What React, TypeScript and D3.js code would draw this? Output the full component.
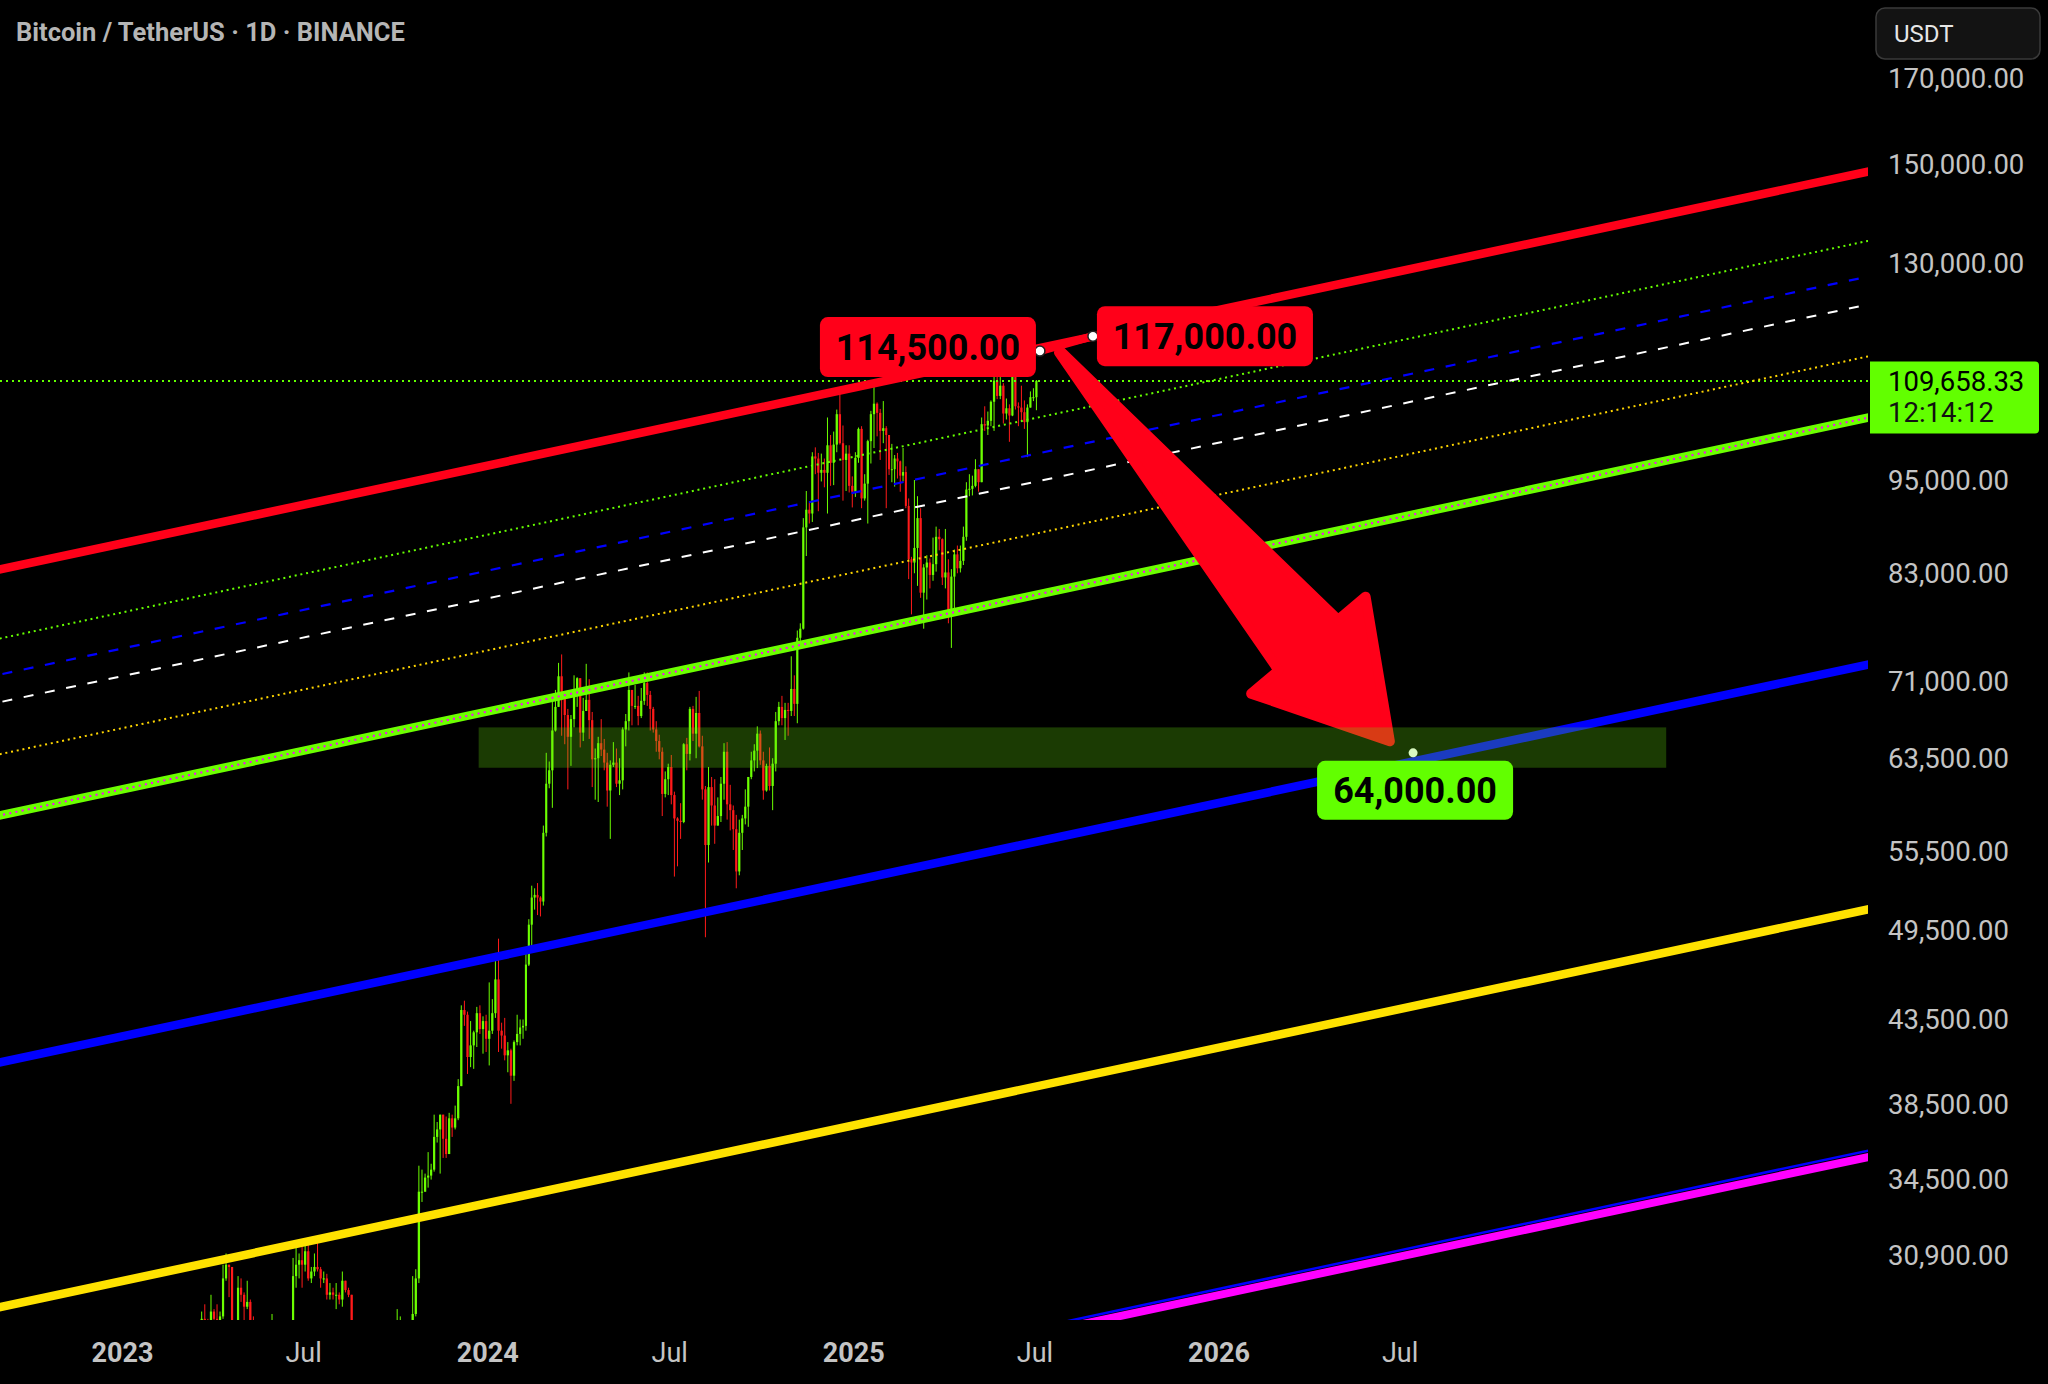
import React, { useEffect } from "react";
import * as d3 from "d3";

const W = 2048;
const H = 1384;
const plotRight = 1868;
const plotBottom = 1320;

const title = "Bitcoin / TetherUS · 1D · BINANCE";
const currency = "USDT";

// price axis labels shown by the chart
const priceTicks = [170000, 150000, 130000, 95000, 83000, 71000, 63500, 55500, 49500, 43500, 38500, 34500, 30900];

// time axis labels
const timeTicks = ["2023-01-01", "2023-07-01", "2024-01-01", "2024-07-01", "2025-01-01", "2025-07-01", "2026-01-01", "2026-07-01"];
const timeTickLabels = ["2023", "Jul", "2024", "Jul", "2025", "Jul", "2026", "Jul"];

// BTC/USDT bars, 10 bars per month (values in thousands), open = previous close
const candleMonths = [
  "2023-03", "2023-04", "2023-05", "2023-06", "2023-07", "2023-08", "2023-09", "2023-10", "2023-11", "2023-12",
  "2024-01", "2024-02", "2024-03", "2024-04", "2024-05", "2024-06", "2024-07", "2024-08", "2024-09", "2024-10",
  "2024-11", "2024-12", "2025-01", "2025-02", "2025-03", "2025-04", "2025-05", "2025-06", "2025-07",
];
const firstOpen = 23.5;
const lastBarDays = 3;

const closes = [
  [22.4, 22.4, 20.4, 22.1, 24.4, 26.9, 28.2, 27.5, 27.1, 28.5],
  [28.2, 28.0, 28.3, 29.9, 30.5, 30.4, 27.3, 27.5, 29.5, 29.2],
  [28.7, 28.9, 27.6, 26.8, 27.2, 26.8, 26.7, 26.3, 26.9, 27.2],
  [27.2, 25.8, 26.5, 25.9, 25.6, 26.3, 30.0, 30.5, 30.7, 30.5],
  [31.1, 29.9, 30.2, 30.4, 30.3, 29.9, 29.9, 29.2, 29.3, 29.2],
  [29.2, 29.0, 29.8, 29.4, 29.2, 26.0, 26.1, 26.2, 26.1, 26.0],
  [25.9, 25.8, 25.9, 25.2, 26.6, 26.8, 26.6, 26.3, 26.4, 27.0],
  [27.5, 27.9, 27.6, 26.8, 27.2, 28.4, 29.9, 33.9, 33.9, 34.6],
  [34.7, 35.0, 36.7, 37.1, 37.9, 36.6, 35.8, 37.7, 37.2, 37.7],
  [39.5, 44.1, 43.8, 41.2, 41.9, 42.7, 43.9, 42.9, 43.4, 42.3],
  [42.8, 43.9, 46.1, 42.8, 42.5, 41.3, 41.6, 40.1, 42.1, 42.6],
  [43.0, 43.1, 47.1, 49.9, 51.9, 52.1, 51.9, 51.6, 57.0, 61.2],
  [62.4, 66.1, 68.4, 71.5, 69.5, 67.6, 65.5, 67.2, 69.5, 71.3],
  [65.9, 68.0, 69.1, 67.1, 63.4, 63.5, 64.9, 64.3, 63.1, 60.6],
  [62.9, 63.1, 61.2, 61.5, 66.2, 67.0, 70.1, 68.5, 68.5, 67.5],
  [69.0, 70.8, 69.6, 68.2, 66.2, 65.1, 64.1, 60.3, 61.6, 62.7],
  [60.2, 58.2, 58.0, 57.9, 64.8, 63.9, 68.2, 65.8, 67.8, 64.6],
  [60.7, 56.0, 60.9, 59.3, 57.6, 58.4, 61.2, 64.1, 59.4, 58.9],
  [57.3, 53.9, 57.0, 58.2, 59.2, 61.8, 63.3, 64.2, 65.8, 63.3],
  [60.6, 62.8, 61.0, 63.0, 67.0, 68.4, 67.3, 68.1, 68.0, 70.2],
  [68.7, 75.6, 76.6, 88.7, 91.0, 90.5, 98.3, 98.0, 96.0, 96.4],
  [96.0, 99.9, 97.4, 100.0, 104.5, 100.2, 97.8, 98.7, 94.2, 93.4],
  [98.1, 102.3, 92.5, 94.5, 100.5, 104.5, 106.1, 104.7, 102.0, 102.4],
  [101.4, 96.5, 96.5, 98.0, 97.6, 95.6, 96.1, 91.5, 84.7, 84.3],
  [86.1, 89.9, 80.7, 83.7, 84.3, 82.8, 84.1, 87.5, 87.2, 82.5],
  [83.1, 78.4, 82.6, 85.3, 83.6, 84.5, 87.5, 93.7, 93.8, 94.2],
  [96.5, 94.7, 103.0, 102.8, 103.5, 106.4, 109.7, 107.3, 108.9, 104.6],
  [105.4, 104.3, 110.3, 105.7, 105.5, 104.8, 103.3, 105.5, 107.1, 107.1],
  [109.65833],
];
const highs = [
  [23.9, 22.6, 22.5, 22.1, 26.5, 28.0, 28.5, 28.8, 28.2, 29.2],
  [28.6, 28.8, 28.5, 30.5, 31.0, 30.5, 30.4, 27.9, 30.0, 29.9],
  [29.3, 29.8, 29.0, 28.3, 27.6, 27.5, 27.2, 27.5, 26.9, 28.4],
  [27.3, 27.4, 27.1, 26.5, 26.0, 26.7, 30.8, 31.4, 31.0, 31.3],
  [31.4, 31.5, 30.4, 31.0, 31.8, 30.4, 30.2, 30.1, 29.7, 29.5],
  [29.7, 29.3, 30.2, 29.7, 29.5, 29.2, 26.3, 26.8, 26.3, 28.1],
  [26.1, 26.0, 26.4, 26.0, 26.8, 27.4, 27.5, 26.7, 26.8, 27.5],
  [28.6, 28.3, 28.0, 27.7, 27.3, 30.0, 30.3, 35.2, 35.0, 34.8],
  [35.9, 35.3, 37.9, 37.5, 37.9, 37.9, 37.8, 38.0, 37.9, 38.4],
  [39.9, 44.4, 44.7, 44.0, 43.4, 42.8, 44.3, 44.4, 43.7, 43.8],
  [45.9, 44.8, 47.9, 48.9, 43.3, 43.6, 42.1, 41.7, 42.2, 43.8],
  [43.5, 43.5, 48.2, 50.3, 52.8, 52.6, 53.0, 52.0, 57.6, 64.0],
  [63.2, 69.2, 70.1, 72.9, 73.8, 69.9, 68.2, 67.6, 71.6, 71.4],
  [71.3, 69.3, 72.8, 71.2, 67.9, 64.4, 65.5, 67.2, 65.3, 64.0],
  [63.3, 65.0, 64.4, 63.5, 66.4, 67.7, 71.9, 70.0, 70.6, 69.5],
  [70.3, 71.9, 71.9, 70.0, 68.4, 67.0, 65.7, 64.5, 62.3, 63.0],
  [63.8, 60.5, 58.3, 59.5, 64.9, 65.4, 68.4, 68.5, 69.4, 70.0],
  [65.6, 61.0, 62.7, 61.8, 61.6, 60.0, 61.8, 64.9, 65.0, 61.1],
  [59.3, 58.5, 58.1, 58.5, 60.7, 61.8, 64.1, 64.8, 66.5, 66.1],
  [64.1, 63.0, 64.5, 63.5, 67.9, 68.9, 69.5, 68.8, 68.8, 73.6],
  [71.6, 76.4, 77.2, 89.9, 93.5, 92.0, 98.9, 99.6, 98.8, 98.7],
  [98.0, 104.0, 101.4, 101.9, 105.2, 108.3, 102.8, 99.9, 99.9, 95.5],
  [98.9, 102.5, 102.7, 95.8, 100.7, 105.0, 109.6, 106.3, 105.3, 106.5],
  [102.7, 100.2, 100.1, 98.5, 98.8, 97.7, 99.5, 96.9, 92.5, 85.0],
  [95.0, 92.8, 91.2, 84.1, 85.2, 84.8, 87.4, 88.8, 88.5, 87.3],
  [88.5, 84.7, 83.5, 85.9, 86.4, 86.4, 88.8, 94.7, 95.8, 95.6],
  [97.9, 96.1, 104.0, 105.7, 104.9, 106.6, 110.3, 111.9, 110.7, 109.3],
  [106.9, 106.0, 110.5, 110.4, 106.3, 108.9, 106.6, 106.0, 108.0, 108.5],
  [109.8],
];
const lows = [
  [22.0, 22.0, 20.1, 19.6, 21.9, 24.2, 26.8, 26.6, 26.6, 26.7],
  [27.3, 27.8, 27.8, 28.2, 29.8, 29.1, 27.1, 27.0, 27.2, 28.9],
  [27.7, 28.6, 27.3, 25.8, 26.6, 26.4, 26.6, 26.1, 26.0, 26.9],
  [26.6, 25.4, 26.1, 25.4, 24.8, 25.2, 26.3, 29.5, 29.9, 29.5],
  [30.2, 29.8, 29.7, 30.0, 30.2, 29.5, 29.7, 29.0, 29.0, 29.0],
  [28.6, 28.8, 28.7, 29.3, 29.1, 25.2, 25.8, 25.4, 25.8, 25.9],
  [25.3, 25.4, 25.6, 24.9, 25.8, 26.3, 26.4, 26.0, 26.0, 26.4],
  [26.9, 27.2, 27.3, 26.5, 26.8, 27.1, 28.3, 29.7, 33.4, 33.9],
  [34.1, 34.5, 34.9, 36.4, 34.8, 35.6, 35.6, 35.8, 36.7, 37.1],
  [37.6, 39.5, 43.1, 40.2, 40.6, 40.5, 41.8, 42.6, 41.4, 41.5],
  [40.7, 42.6, 43.6, 41.5, 41.7, 41.0, 40.3, 38.5, 39.8, 41.9],
  [41.9, 42.3, 42.8, 47.0, 48.4, 51.0, 50.6, 50.5, 51.3, 56.7],
  [60.8, 59.1, 66.0, 68.5, 65.6, 64.8, 60.7, 62.8, 66.4, 68.4],
  [64.5, 65.1, 68.2, 65.3, 60.9, 59.8, 59.6, 63.7, 62.4, 59.2],
  [56.5, 62.7, 60.9, 60.2, 60.7, 64.6, 66.1, 66.6, 68.2, 66.6],
  [67.3, 68.6, 68.5, 66.1, 65.9, 64.1, 63.4, 58.4, 60.0, 60.2],
  [59.4, 53.5, 54.3, 56.5, 57.8, 62.4, 63.3, 65.1, 63.5, 64.5],
  [59.8, 49.0, 54.6, 57.6, 56.1, 57.8, 57.9, 59.8, 58.1, 57.2],
  [55.6, 52.6, 53.6, 55.6, 57.7, 57.5, 61.6, 62.3, 62.6, 62.9],
  [59.8, 60.5, 60.6, 58.9, 62.3, 66.6, 66.6, 65.2, 65.6, 67.5],
  [67.5, 66.8, 74.4, 76.5, 85.1, 89.2, 89.4, 95.8, 90.8, 94.8],
  [94.0, 90.5, 94.2, 94.3, 98.9, 100.0, 92.2, 93.5, 93.3, 91.3],
  [92.7, 97.4, 91.2, 92.2, 89.2, 97.3, 99.5, 101.2, 97.8, 100.2],
  [91.2, 95.7, 94.7, 94.1, 95.2, 93.4, 94.8, 91.2, 82.3, 78.2],
  [83.0, 81.5, 80.1, 76.6, 79.9, 81.2, 82.1, 83.2, 85.8, 81.6],
  [81.2, 77.2, 74.5, 78.6, 83.0, 83.1, 84.0, 87.0, 92.8, 92.9],
  [94.0, 93.4, 95.9, 102.0, 101.4, 102.7, 102.0, 106.8, 106.8, 103.1],
  [103.7, 100.4, 104.2, 105.2, 102.7, 103.4, 102.3, 98.2, 105.9, 106.5],
  [105.1],
];

const lastPrice = 109658.33;
const countdown = "12:14:12";

// extended trend/channel lines, each through two [date, price] anchors
const channelIds = ["magenta", "blueThin", "yellow", "blue", "greenThick", "yellowDots", "whiteDash", "blueDash", "greenDots", "red"];
const channelFrom = [
  ["2023-01-01", 20830], ["2023-01-01", 21000], ["2023-01-01", 29790], ["2023-01-01", 42450], ["2023-01-01", 60710],
  ["2023-01-01", 66330], ["2023-01-01", 71520], ["2023-01-01", 74440], ["2023-01-01", 78430], ["2023-01-01", 86680],
];
const channelTo = [
  ["2026-01-01", 29190], ["2026-01-01", 29450], ["2026-01-01", 41770], ["2026-01-01", 59530], ["2026-01-01", 85120],
  ["2026-01-01", 93010], ["2026-01-01", 100280], ["2026-01-01", 104400], ["2026-01-01", 109960], ["2026-01-01", 121550],
];

// annotations
const noteFrom = ["2025-07-06", 114500];
const noteTo = ["2025-08-28", 117000];
const arrowFrom = ["2025-07-26", 114340];
const arrowTo = ["2026-06-24", 64720];
const targetPoint = ["2026-07-14", 64000];
const zoneDates = ["2023-12-23", "2027-03-24"];
const zonePrices = [62630, 66400];

const lineStyle = {
  magenta: { stroke: "#ff00ff", width: 8 },
  blueThin: { stroke: "#0000ff", width: 2.5 },
  yellow: { stroke: "#ffe200", width: 8.5 },
  blue: { stroke: "#0000ff", width: 8.5 },
  greenThick: { stroke: "#6cff00", width: 8.5 },
  yellowDots: { stroke: "#ffd600", width: 2, dash: "2 3.8" },
  whiteDash: { stroke: "#ffffff", width: 2, dash: "10 11.7" },
  blueDash: { stroke: "#0000ff", width: 2.2, dash: "10 11.7" },
  greenDots: { stroke: "#66ff00", width: 2, dash: "2 3.8" },
  red: { stroke: "#ff0019", width: 8.5 },
};

const RED = "#ff0019";
const LIME = "#62ff00";
const UP = "#6cff00";
const DOWN = "#ff1a1a";
const AXIS_TEXT = "#c4c4c4";

const fmt = d3.format(",.2f");
const day = 864e5;

export default function App() {
  useEffect(() => {
    document.body.style.margin = "0";
    document.body.style.background = "#000";
  }, []);

  const x = d3.scaleUtc()
    .domain([new Date("2023-01-01"), new Date("2026-01-01")])
    .range([122.5, 1219]);
  const y = d3.scaleLog().domain([30900, 170000]).range([1255.7, 78.1]);

  const pt = (a) => [x(new Date(a[0])), y(a[1])];

  // candles
  const candles = [];
  let prev = firstOpen;
  candleMonths.forEach((m, mi) => {
    const start = new Date(m + "-01");
    const n = closes[mi].length;
    const span = mi === candleMonths.length - 1
      ? lastBarDays
      : (d3.utcMonth.offset(start, 1) - start) / day;
    for (let k = 0; k < n; k++) {
      const t0 = new Date(+start + (k * span / n) * day);
      const t1 = new Date(+start + ((k + 1) * span / n) * day);
      const o = prev;
      const c = closes[mi][k];
      const h = Math.max(highs[mi][k], o, c);
      const l = Math.min(lows[mi][k], o, c);
      candles.push({ t0, t1, o: o * 1000, c: c * 1000, h: h * 1000, l: l * 1000 });
      prev = c;
    }
  });

  const extLine = (from, to) => {
    const [x1, y1] = pt(from);
    const [x2, y2] = pt(to);
    const k = (y2 - y1) / (x2 - x1);
    const xa = -40, xb = plotRight + 40;
    return { x1: xa, y1: y1 + (xa - x1) * k, x2: xb, y2: y1 + (xb - x1) * k };
  };

  // arrow geometry
  const S = pt(arrowFrom);
  const T = pt(arrowTo);
  const L = Math.hypot(T[0] - S[0], T[1] - S[1]);
  const ux = (T[0] - S[0]) / L, uy = (T[1] - S[1]) / L;
  const nx = -uy, ny = ux;
  const tip = [T[0] - ux * 5, T[1] - uy * 5];
  const headLen = 126, headHalf = 75, shaft0 = 1, shaft1 = 39;
  const base = [tip[0] - ux * headLen, tip[1] - uy * headLen];
  const off = (p, w) => [p[0] + nx * w, p[1] + ny * w];
  const arrowPts = [off(S, shaft0), off(base, shaft1), off(base, headHalf), tip, off(base, -headHalf), off(base, -shaft1), off(S, -shaft0)];

  const n1 = pt(noteFrom);
  const n2 = pt(noteTo);
  const tp = pt(targetPoint);
  const zx0 = x(new Date(zoneDates[0])), zx1 = x(new Date(zoneDates[1]));
  const zy0 = y(zonePrices[1]), zy1 = y(zonePrices[0]);
  const py = y(lastPrice);

  const label = (cx, cy, w, h, fill, text) => (
    <g>
      <rect x={cx - w / 2} y={cy - h / 2} width={w} height={h} rx={8} fill={fill} />
      <text x={cx} y={cy + 12.8} textAnchor="middle" fontSize={36} fontWeight={700} fill="#000">{text}</text>
    </g>
  );

  return (
    <svg width={W} height={H} style={{ position: "fixed", left: 0, top: 0, background: "#000" }} fontFamily="Roboto, sans-serif">
      <defs>
        <clipPath id="plot">
          <rect x={0} y={0} width={plotRight} height={plotBottom} />
        </clipPath>
      </defs>
      <rect x={0} y={0} width={W} height={H} fill="#000" />

      <g clipPath="url(#plot)">
        {candles.map((d, i) => {
          const xa = x(d.t0), xb = x(d.t1);
          const cx = (xa + xb) / 2;
          const col = d.c >= d.o ? UP : DOWN;
          const top = y(Math.max(d.o, d.c));
          const bh = Math.max(1, Math.abs(y(d.o) - y(d.c)));
          return (
            <g key={i}>
              <line x1={cx} x2={cx} y1={y(d.h)} y2={y(d.l)} stroke={col} strokeWidth={1} />
              <rect x={xa + 0.4} width={Math.max(1, xb - xa - 0.8)} y={top} height={bh} fill={col} />
            </g>
          );
        })}

        <line x1={0} x2={plotRight} y1={py} y2={py} stroke={LIME} strokeWidth={2} strokeDasharray="2 4" />

        {channelIds.map((id, i) => {
          const s = lineStyle[id];
          const l = extLine(channelFrom[i], channelTo[i]);
          return (
            <g key={id}>
              <line {...l} stroke={s.stroke} strokeWidth={s.width} strokeDasharray={s.dash} />
              {id === "greenThick" && (
                <line {...l} stroke="#ff00ff" strokeWidth={2} strokeDasharray="2 4.3" />
              )}
            </g>
          );
        })}

        <line x1={n1[0]} y1={n1[1]} x2={n2[0]} y2={n2[1]} stroke={RED} strokeWidth={8} />

        <polygon points={arrowPts.map((p) => p.join(",")).join(" ")} fill={RED} stroke={RED} strokeWidth={10} strokeLinejoin="round" />

        <circle cx={tp[0]} cy={tp[1]} r={4.5} fill="#fff" />

        <rect x={zx0} y={zy0} width={zx1 - zx0} height={zy1 - zy0} fill="rgb(104,228,12)" fillOpacity={0.26} />

        <circle cx={n1[0]} cy={n1[1]} r={5} fill="#fff" stroke="#222" strokeWidth={1.5} />
        <circle cx={n2[0]} cy={n2[1]} r={5} fill="#fff" stroke="#222" strokeWidth={1.5} />
      </g>

      {label(n1[0] - 4 - 108, n1[1] - 4, 216, 60, RED, fmt(noteFrom[1]))}
      {label(n2[0] + 4 + 108, n2[1], 216, 60, RED, fmt(noteTo[1]))}
      {label(tp[0] + 2, tp[1] + 8 + 29.5, 196, 59, LIME, fmt(targetPoint[1]))}

      <text x={16} y={41} fontSize={25.5} fontWeight={700} fill="#b5b5b5">{title}</text>

      {/* price axis */}
      <rect x={1876} y={8} width={164} height={51} rx={9} fill="#131313" stroke="#3a3a3a" strokeWidth={1.5} />
      <text x={1894} y={42} fontSize={24} fill="#e6e6e6">{currency}</text>
      {priceTicks.map((v) => (
        <text key={v} x={1888} y={y(v) + 9.7} fontSize={27.5} fill={AXIS_TEXT}>{fmt(v)}</text>
      ))}
      <path d={`M1870,${py - 19.5} H2035 a4,4 0 0 1 4,4 V${py + 48.5} a4,4 0 0 1 -4,4 H1870 Z`} fill={LIME} />
      <text x={1888} y={py + 9.7} fontSize={27.5} fill="#000">{fmt(lastPrice)}</text>
      <text x={1888} y={py + 41} fontSize={27.5} fill="#111">{countdown}</text>

      {/* time axis */}
      {timeTicks.map((t, i) => (
        <text key={t} x={x(new Date(t))} y={1361.6} textAnchor="middle" fontSize={27}
          fontWeight={timeTickLabels[i] === "Jul" ? 400 : 700} fill={AXIS_TEXT}>{timeTickLabels[i]}</text>
      ))}
    </svg>
  );
}
